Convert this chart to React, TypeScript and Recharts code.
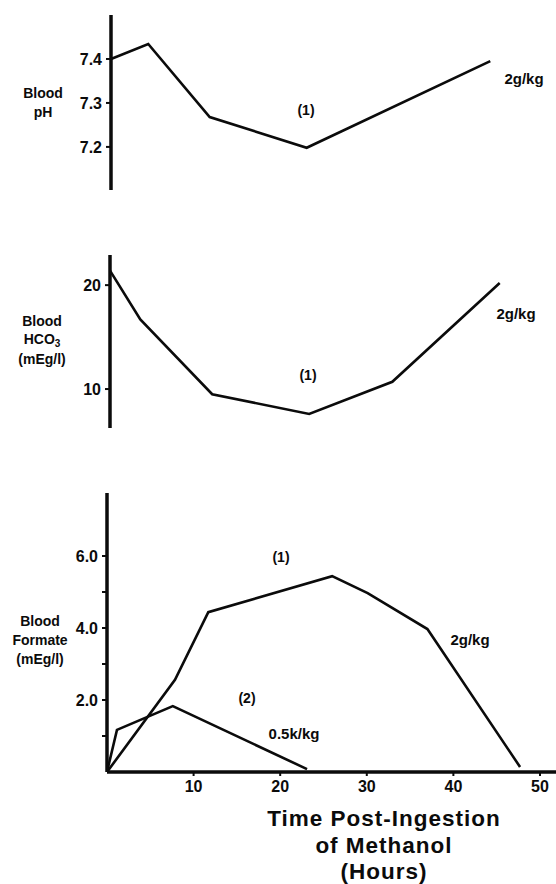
import React from 'react';
import { LineChart, Line, XAxis, YAxis } from 'recharts';

const FONT = '"Liberation Sans", Arial, Helvetica, sans-serif';
const INK = '#0b0b0b';

// Panel 1: Blood pH (2 g/kg)
const phHours = [0, 4.3, 11.4, 22.6, 43.8];
const phValues = [7.4, 7.434, 7.268, 7.198, 7.395];
const phTicks = [7.2, 7.3, 7.4];

// Panel 2: Blood HCO3 (2 g/kg)
const hco3Hours = [0, 3.5, 11.8, 23.0, 32.6, 45.0];
const hco3Values = [21.4, 16.7, 9.5, 7.6, 10.7, 20.2];
const hco3Ticks = [10, 20];

// Panel 3: Blood formate, 2 g/kg (1) and 0.5 g/kg (2)
const formateHighHours = [0, 7.85, 11.7, 26.0, 30.1, 37.0, 47.7];
const formateHighValues = [0, 2.56, 4.44, 5.44, 4.97, 3.97, 0.14];
const formateLowHours = [0, 1.15, 7.6, 23.1];
const formateLowValues = [0, 1.17, 1.83, 0.08];
const formateTicks = [1, 2, 3, 4, 5, 6];
const timeTicks = [10, 20, 30, 40, 50];

const zip = (xs: number[], ys: number[]) => xs.map((h, i) => ({ h, v: ys[i] }));

const phData = zip(phHours, phValues);
const hco3Data = zip(hco3Hours, hco3Values);
const formateHighData = zip(formateHighHours, formateHighValues);
const formateLowData = zip(formateLowHours, formateLowValues);

const tickStyle = (size: number) => ({
  fill: INK,
  fontSize: size,
  fontWeight: 700,
  fontFamily: FONT,
});

const lineProps = {
  type: 'linear' as const,
  dataKey: 'v',
  stroke: INK,
  strokeWidth: 2.6,
  dot: false,
  activeDot: false,
  isAnimationActive: false,
};

const axisLine = { stroke: INK, strokeWidth: 3.5 };
const tickLine = { stroke: INK, strokeWidth: 2 };

const Txt = ({ x, y, size = 14, spacing = 0, children }: any) => (
  <text
    x={x}
    y={y}
    textAnchor="middle"
    fontFamily={FONT}
    fontWeight={700}
    fontSize={size}
    letterSpacing={spacing}
    fill={INK}
  >
    {children}
  </text>
);

export default function App() {
  return (
    <div
      style={{
        position: 'absolute',
        left: 0,
        top: 0,
        width: 556,
        height: 884,
        background: '#fff',
        overflow: 'hidden',
      }}
    >
      {/* pH panel */}
      <div style={{ position: 'absolute', left: 0, top: 0 }}>
        <LineChart width={556} height={200} margin={{ top: 15, right: 0, bottom: 10, left: 0 }}>
          <XAxis type="number" dataKey="h" domain={[0, 51.39]} hide />
          <YAxis
            type="number"
            width={111}
            domain={[7.102, 7.5]}
            ticks={phTicks}
            tickFormatter={(v: number) => v.toFixed(1)}
            tick={tickStyle(16)}
            tickSize={5}
            tickMargin={4}
            axisLine={axisLine}
            tickLine={tickLine}
            allowDataOverflow
          />
          <Line {...lineProps} data={phData} />
        </LineChart>
      </div>

      {/* HCO3 panel */}
      <div style={{ position: 'absolute', left: 0, top: 240 }}>
        <LineChart width={556} height={200} margin={{ top: 15, right: 0, bottom: 12, left: 0 }}>
          <XAxis type="number" dataKey="h" domain={[0, 51.5]} hide />
          <YAxis
            type="number"
            width={110}
            domain={[6.25, 22.9]}
            ticks={hco3Ticks}
            tick={tickStyle(16)}
            tickSize={5}
            tickMargin={4}
            axisLine={axisLine}
            tickLine={tickLine}
            allowDataOverflow
          />
          <Line {...lineProps} data={hco3Data} />
        </LineChart>
      </div>

      {/* Formate panel */}
      <div style={{ position: 'absolute', left: 0, top: 480 }}>
        <LineChart width={556} height={330} margin={{ top: 13, right: 0, bottom: 8, left: 0 }}>
          <XAxis
            type="number"
            dataKey="h"
            domain={[0, 51.85]}
            ticks={timeTicks}
            height={30}
            tick={tickStyle(16)}
            tickSize={4}
            tickMargin={5}
            axisLine={axisLine}
            tickLine={tickLine}
            allowDataOverflow
          />
          <YAxis
            type="number"
            width={107}
            domain={[0, 7.75]}
            ticks={formateTicks}
            tickFormatter={(v: number) => (v % 2 === 0 ? v.toFixed(1) : '')}
            tick={tickStyle(16)}
            tickSize={5}
            tickMargin={4}
            axisLine={axisLine}
            tickLine={tickLine}
            allowDataOverflow
          />
          <Line {...lineProps} data={formateHighData} />
          <Line {...lineProps} data={formateLowData} />
        </LineChart>
      </div>

      {/* Text annotations */}
      <svg
        width={556}
        height={884}
        style={{ position: 'absolute', left: 0, top: 0, pointerEvents: 'none' }}
      >
        <Txt x={43} y={98} size={14}>Blood</Txt>
        <Txt x={43} y={117} size={14}>pH</Txt>
        <Txt x={306} y={115} size={14}>(1)</Txt>
        <Txt x={524} y={84} size={15}>2g/kg</Txt>

        <Txt x={42} y={326} size={14}>Blood</Txt>
        <text x={42} y={344} textAnchor="middle" fontFamily={FONT} fontWeight={700} fontSize={14} fill={INK}>
          HCO<tspan dy={3} fontSize={10}>3</tspan>
        </text>
        <Txt x={42} y={364} size={14}>(mEg/l)</Txt>
        <Txt x={308} y={380} size={14}>(1)</Txt>
        <Txt x={516} y={319} size={15}>2g/kg</Txt>

        <Txt x={40} y={626} size={14}>Blood</Txt>
        <Txt x={40} y={645} size={14}>Formate</Txt>
        <Txt x={40} y={664} size={14}>(mEg/l)</Txt>
        <Txt x={281} y={562} size={14}>(1)</Txt>
        <Txt x={470} y={645} size={15}>2g/kg</Txt>
        <Txt x={247} y={703} size={14}>(2)</Txt>
        <Txt x={294} y={739} size={15}>0.5k/kg</Txt>

        <Txt x={384} y={826} size={22.5} spacing={1}>Time Post-Ingestion</Txt>
        <Txt x={384} y={852.5} size={22.5} spacing={1}>of Methanol</Txt>
        <Txt x={384} y={879} size={22.5} spacing={1}>(Hours)</Txt>
      </svg>
    </div>
  );
}
